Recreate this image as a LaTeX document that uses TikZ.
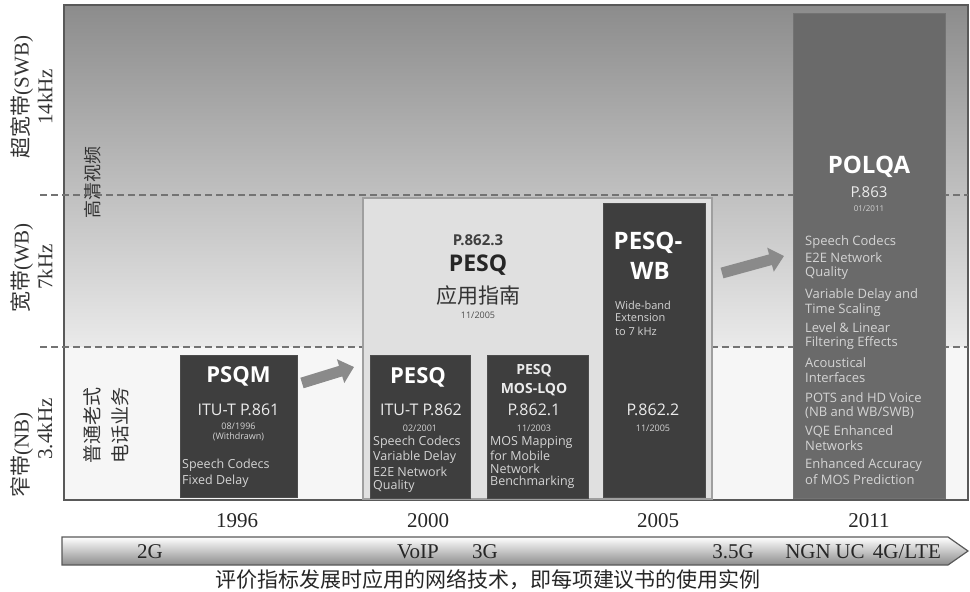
\documentclass[tikz,border=0pt]{standalone}
\usepackage{fontspec}
\setmainfont{Liberation Serif}
\setsansfont{Open Sans}
\newfontfamily\cjk{Noto Sans CJK SC}
\usetikzlibrary{arrows.meta}
\definecolor{bgtop}{HTML}{8C8C8C}
\definecolor{bgmid}{HTML}{EAEAEA}
\definecolor{bgbot}{HTML}{F6F6F6}
\definecolor{boxdark}{HTML}{3E3E3E}
\definecolor{boxmid}{HTML}{6A6A6A}
\definecolor{boxlight}{HTML}{E0E0E0}
\definecolor{arrowgray}{HTML}{8A8A8A}
\definecolor{itemgray}{HTML}{D4D4D4}
\newcommand\pxf[1]{\fontsize{#1}{#1}\selectfont}

\begin{document}
\begin{tikzpicture}[x=1pt, y=-1pt,
		darkbox/.style={draw=black!70, fill=boxdark, line width=1, inner sep=0},
		midbox/.style={draw=black!55, fill=boxmid, line width=1, inner sep=0},
		lightbox/.style={draw=gray!75, fill=boxlight, line width=1.5, inner sep=0},
		boxttl/.style={font=\sffamily\bfseries\pxf{22}, text=white, inner sep=0},
		boxsub/.style={font=\sffamily\pxf{16}, text=white!92!black, inner sep=0},
		boxtiny/.style={font=\sffamily\pxf{9}, text=itemgray, inner sep=0},
		boxitem/.style={font=\sffamily\pxf{12.5}, text=itemgray, anchor=west, inner sep=0},
		bandlbl/.style={rotate=90, font=\pxf{21}, text=black!80, inner sep=0},
		bandline/.style={draw=black!55, dash pattern=on 7pt off 4pt, line width=1.2},
		bigarrow/.style={draw=arrowgray, line width=11, -{Triangle[length=14pt, width=24pt]}},
		yearlbl/.style={font=\pxf{21}, text=black!85, inner sep=0},
		netlbl/.style={font=\pxf{21}, text=black!85, inner sep=0}]
	\useasboundingbox (0,0) rectangle (970,592);
	%% background bands
	\shade[top color=bgtop, bottom color=bgmid] (64,5) rectangle (968,347);
	\fill[bgbot] (64,347) rectangle (968,500);
	\draw[gray!70!black, line width=1.5] (64,5) rectangle (968,500);
	\draw[bandline] (40,195) -- (968,195);
	\draw[bandline] (40,347) -- (968,347);
	%% band names
	\node[bandlbl] (swb) at (22,97) {{\cjk 超宽带}(SWB)};
	\node[bandlbl] (swbf) at (45,97) {14kHz};
	\node[bandlbl] (wb) at (22,268) {{\cjk 宽带}(WB)};
	\node[bandlbl] (wbf) at (45,267) {7kHz};
	\node[bandlbl] (nb) at (22,455) {{\cjk 窄带}(NB)};
	\node[bandlbl] (nbf) at (45,429) {3.4kHz};
	\node[bandlbl, font=\cjk\pxf{18}] (hdv) at (93,182) {高清视频};
	\node[bandlbl, font=\cjk\pxf{19}] (pots) at (92,425) {普通老式};
	\node[bandlbl, font=\cjk\pxf{19}] (potsb) at (120,425) {电话业务};
	%% PSQM
	\node[darkbox, minimum width=117, minimum height=142] (psqm) at (238.5,426) {};
	\node[boxttl] (psqmt) at (238.5,376) {PSQM};
	\node[boxsub] (psqmr) at (238.5,410) {ITU-T P.861};
	\node[boxtiny] (psqmd) at (238.5,426) {08/1996};
	\node[boxtiny] (psqmw) at (238.5,437) {(Withdrawn)};
	\node[boxitem] (psqm1) at (182,465) {Speech Codecs};
	\node[boxitem] (psqm2) at (182,481) {Fixed Delay};
	%% P.862.3 guide
	\node[lightbox, minimum width=349, minimum height=301] (guide) at (537.5,348.5) {};
	\node[font=\sffamily\bfseries\pxf{15}, text=black!75, inner sep=0] (guider) at (478,240) {P.862.3};
	\node[boxttl, text=black!85, font=\sffamily\bfseries\pxf{23}] (guidet) at (478,265) {PESQ};
	\node[font=\cjk\pxf{21}, text=black!80, inner sep=0] (guidec) at (478,296) {应用指南};
	\node[boxtiny, text=black!70] (guided) at (478,315) {11/2005};
	%% PESQ
	\node[darkbox, minimum width=100, minimum height=143] (pesq) at (420,426.5) {};
	\node[boxttl] (pesqt) at (418,377) {PESQ};
	\node[boxsub] (pesqr) at (421,410) {ITU-T P.862};
	\node[boxtiny] (pesqd) at (420,428) {02/2001};
	\foreach \t [count=\i] in {Speech Codecs, Variable Delay, E2E Network, Quality}
		\node[boxitem] (pesq\i) at (373,428+14.6*\i) {\t};
	%% PESQ MOS-LQO
	\node[darkbox, minimum width=101, minimum height=143] (lqo) at (537.5,426.5) {};
	\node[boxsub, font=\sffamily\bfseries\pxf{14}] (lqot) at (534,371) {PESQ};
	\node[boxsub, font=\sffamily\bfseries\pxf{14}] (lqom) at (534,390) {MOS-LQO};
	\node[boxsub] (lqor) at (534,410) {P.862.1};
	\node[boxtiny] (lqod) at (534,428) {11/2003};
	\foreach \t [count=\i] in {MOS Mapping, for Mobile, Network, Benchmarking}
		\node[boxitem] (lqo\i) at (490,429+13.2*\i) {\t};
	%% PESQ-WB
	\node[darkbox, minimum width=102, minimum height=294] (wbox) at (654,350) {};
	\node[boxttl, font=\sffamily\bfseries\pxf{24}] (wboxt) at (648,243) {PESQ-};
	\node[boxttl, font=\sffamily\bfseries\pxf{24}] (wboxw) at (650,271) {WB};
	\node[boxitem, font=\sffamily\pxf{11}] (wbox1) at (615,305) {Wide-band};
	\node[boxitem, font=\sffamily\pxf{11}] (wbox2) at (615,318) {Extension};
	\node[boxitem, font=\sffamily\pxf{11}] (wbox3) at (615,331) {to 7 kHz};
	\node[boxsub] (wboxr) at (653,410) {P.862.2};
	\node[boxtiny] (wboxd) at (653,428) {11/2005};
	%% POLQA
	\node[midbox, minimum width=152, minimum height=485] (polqa) at (869,255.5) {};
	\node[boxttl, font=\sffamily\bfseries\pxf{24}] (polqat) at (869,167) {POLQA};
	\node[boxsub, font=\sffamily\pxf{15}] (polqar) at (869,192) {P.863};
	\node[boxtiny, font=\sffamily\pxf{8}] (polqad) at (869,209) {01/2011};
	\foreach \t/\yy [count=\i] in {Speech Codecs/242, E2E Network/258, Quality/273,
			Variable Delay and/295, Time Scaling/310, Level \& Linear/328,
			Filtering Effects/343, Acoustical/363, Interfaces/378,
			POTS and HD Voice/398, {(NB and WB/SWB)}/413, VQE Enhanced/432,
			Networks/446, Enhanced Accuracy/465, of MOS Prediction/480}
		\node[boxitem, font=\sffamily\pxf{13}] (polqa\i) at (805,\yy) {\t};
	%% Links
	\coordinate (arra) at (302,383);
	\coordinate (arrb) at (354,367);
	\coordinate (arrc) at (722,273);
	\coordinate (arrd) at (784,256);
	\path[bigarrow] (arra) -- (arrb);
	\path[bigarrow] (arrc) -- (arrd);
	%% years
	\node[yearlbl] (y96) at (237,521) {1996};
	\node[yearlbl] (y00) at (428,521) {2000};
	\node[yearlbl] (y05) at (658,521) {2005};
	\node[yearlbl] (y11) at (869,521) {2011};
	%% network time line
	\shade[top color=white, bottom color=black!45, draw=black!65, line width=1.2]
		(62,537) -- (948,537) -- (968,551) -- (948,565) -- (62,565) -- cycle;
	\node[netlbl] (n2g) at (150,552) {2G};
	\node[netlbl] (nvoip) at (418,552) {VoIP};
	\node[netlbl] (n3g) at (485,552) {3G};
	\node[netlbl] (n35g) at (733,552) {3.5G};
	\node[netlbl] (nngn) at (808,552) {NGN};
	\node[netlbl] (nuc) at (850,552) {UC};
	\node[netlbl] (nlte) at (907,552) {4G/LTE};
	\node[font=\cjk\pxf{21}, text=black!85, inner sep=0] (cap) at (488,580) {评价指标发展时应用的网络技术，即每项建议书的使用实例};
\end{tikzpicture}
\end{document}
